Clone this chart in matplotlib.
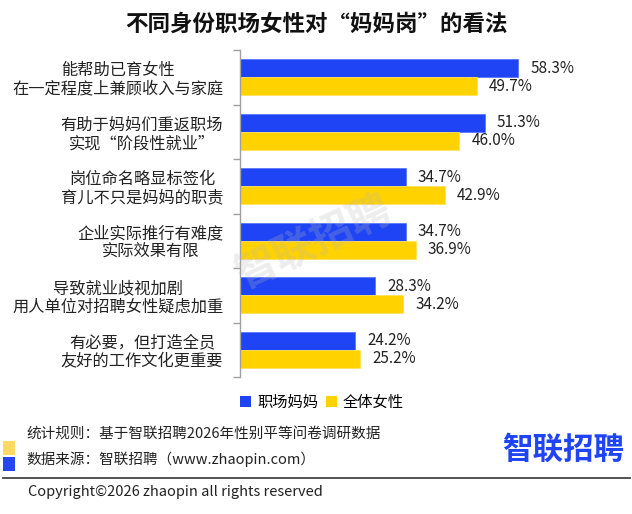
import matplotlib
matplotlib.use("Agg")
import matplotlib.pyplot as plt
from matplotlib.patches import Patch, Rectangle
from matplotlib.lines import Line2D

plt.rcParams['font.family'] = ['Noto Sans CJK SC', 'DejaVu Sans']

categories = [
    "能帮助已育女性\n在一定程度上兼顾收入与家庭",
    "有助于妈妈们重返职场\n实现“阶段性就业”",
    "岗位命名略显标签化\n育儿不只是妈妈的职责",
    "企业实际推行有难度\n实际效果有限",
    "导致就业歧视加剧\n用人单位对招聘女性疑虑加重",
    "有必要，但打造全员\n友好的工作文化更重要",
]
series_names = ["职场妈妈", "全体女性"]
mothers = [58.3, 51.3, 34.7, 34.7, 28.3, 24.2]
all_women = [49.7, 46.0, 42.9, 36.9, 34.2, 25.2]

title = "不同身份职场女性对“妈妈岗”的看法"
note1 = "统计规则：基于智联招聘2026年性别平等问卷调研数据"
note2 = "数据来源：智联招聘（www.zhaopin.com）"
copyright_text = "Copyright©2026 zhaopin all rights reserved"
logo = "智联招聘"

BLUE = "#1f44f5"
YELLOW = "#ffd200"

W, H = 632, 514
fig = plt.figure(figsize=(W / 100, H / 100), dpi=100)

def fx(px):
    return px / W

def fy(py):
    return 1 - py / H

ax_left, ax_right, ax_top, ax_bottom = 240, 610, 50, 377
ax = fig.add_axes([fx(ax_left), fy(ax_bottom), fx(ax_right - ax_left), (ax_bottom - ax_top) / H])
px_per_unit = 4.77
xmax = (ax_right - ax_left) / px_per_unit
ax.set_xlim(0, xmax)
ax.set_ylim(len(categories) - 0.5, -0.5)

bh = 0.33
ys = list(range(len(categories)))
ax.barh([y - bh / 2 for y in ys], mothers, height=bh, color=BLUE,
        edgecolor="#5a78ff", linewidth=0.6, label=series_names[0], zorder=2)
ax.barh([y + bh / 2 for y in ys], all_women, height=bh, color=YELLOW,
        edgecolor="#ffe060", linewidth=0.6, label=series_names[1], zorder=2)

off = 12 / px_per_unit
for y, v in zip(ys, mothers):
    ax.text(v + off, y - bh / 2, f"{v:.1f}%", va="center", ha="left", fontsize=11, color="#222222")
for y, v in zip(ys, all_women):
    ax.text(v + off, y + bh / 2, f"{v:.1f}%", va="center", ha="left", fontsize=11, color="#222222")

for s in ["top", "right", "bottom"]:
    ax.spines[s].set_visible(False)
ax.spines["left"].set_color("#a0a0a0")
ax.spines["left"].set_linewidth(1.0)
ax.set_xticks([])
ax.set_yticks(ys)
ax.set_yticklabels(categories, fontsize=11.7, color="#222222", multialignment="center",
                   linespacing=1.1)
ax.tick_params(axis="y", which="major", length=0, pad=12)
ax.set_yticks([i - 0.5 for i in range(len(categories) + 1)], minor=True)
ax.tick_params(axis="y", which="minor", length=5, color="#a0a0a0", width=1.0)

# Title
fig.text(fx(316), fy(24), title, ha="center", va="center", fontsize=16.2, fontweight="heavy", color="#111111")

# Watermark
fig.text(fx(314), fy(243), logo, ha="center", va="center", fontsize=30, fontweight="bold",
         color="#b8b8b8", alpha=0.25, rotation=25, zorder=10)

# Legend
handles = [Patch(facecolor=BLUE, edgecolor="none"), Patch(facecolor=YELLOW, edgecolor="none")]
fig.legend(handles, series_names, loc="center", bbox_to_anchor=(fx(322), fy(402)), ncol=2,
           frameon=False, fontsize=11, handlelength=0.7, handleheight=0.7, handletextpad=0.4,
           columnspacing=0.5)

# Footnotes
fig.patches.append(Rectangle((fx(3), fy(455)), fx(12), 14 / H, transform=fig.transFigure,
                             facecolor="#ffd966", edgecolor="none"))
fig.patches.append(Rectangle((fx(3), fy(471)), fx(12), 14 / H, transform=fig.transFigure,
                             facecolor="#2447f5", edgecolor="none"))
fig.text(fx(26), fy(434), note1, ha="left", va="center", fontsize=10.5, color="#222222")
fig.text(fx(26), fy(459), note2, ha="left", va="center", fontsize=10.5, color="#222222")

# Logo
fig.text(fx(563), fy(450), logo, ha="center", va="center", fontsize=22, fontweight="bold", color=BLUE)

# Separator line and copyright
fig.lines.append(Line2D([fx(3), fx(630)], [fy(478), fy(478)], transform=fig.transFigure,
                        color="#444444", linewidth=1.3))
fig.text(fx(28), fy(492), copyright_text, ha="left", va="center", fontsize=10.5, color="#222222")

fig.savefig("out.png", dpi=100)
